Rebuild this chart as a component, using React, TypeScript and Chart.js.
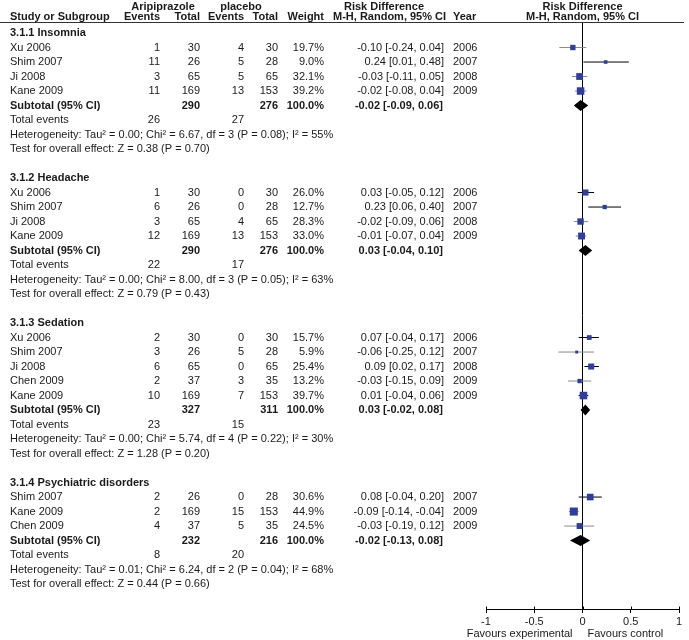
import React, { useEffect, useRef } from "react";
import { Chart, registerables } from "chart.js";

Chart.register(...registerables);

const FONT = '"Liberation Sans", Arial, sans-serif';

// ---------- 3.1.1 Insomnia ----------
const insomniaStudies = ["Xu 2006", "Shim 2007", "Ji 2008", "Kane 2009"];
const insomniaExpEvents = [1, 11, 3, 11];
const insomniaExpTotal = [30, 26, 65, 169];
const insomniaCtlEvents = [4, 5, 5, 13];
const insomniaCtlTotal = [30, 28, 65, 153];
const insomniaWeight = [19.7, 9.0, 32.1, 39.2];
const insomniaRD = [-0.1, 0.24, -0.03, -0.02];
const insomniaLo = [-0.24, 0.01, -0.11, -0.08];
const insomniaHi = [0.04, 0.48, 0.05, 0.04];
const insomniaYear = [2006, 2007, 2008, 2009];

// ---------- 3.1.2 Headache ----------
const headacheStudies = ["Xu 2006", "Shim 2007", "Ji 2008", "Kane 2009"];
const headacheExpEvents = [1, 6, 3, 12];
const headacheExpTotal = [30, 26, 65, 169];
const headacheCtlEvents = [0, 0, 4, 13];
const headacheCtlTotal = [30, 28, 65, 153];
const headacheWeight = [26.0, 12.7, 28.3, 33.0];
const headacheRD = [0.03, 0.23, -0.02, -0.01];
const headacheLo = [-0.05, 0.06, -0.09, -0.07];
const headacheHi = [0.12, 0.4, 0.06, 0.04];
const headacheYear = [2006, 2007, 2008, 2009];

// ---------- 3.1.3 Sedation ----------
const sedationStudies = ["Xu 2006", "Shim 2007", "Ji 2008", "Chen 2009", "Kane 2009"];
const sedationExpEvents = [2, 3, 6, 2, 10];
const sedationExpTotal = [30, 26, 65, 37, 169];
const sedationCtlEvents = [0, 5, 0, 3, 7];
const sedationCtlTotal = [30, 28, 65, 35, 153];
const sedationWeight = [15.7, 5.9, 25.4, 13.2, 39.7];
const sedationRD = [0.07, -0.06, 0.09, -0.03, 0.01];
const sedationLo = [-0.04, -0.25, 0.02, -0.15, -0.04];
const sedationHi = [0.17, 0.12, 0.17, 0.09, 0.06];
const sedationYear = [2006, 2007, 2008, 2009, 2009];

// ---------- 3.1.4 Psychiatric disorders ----------
const psychStudies = ["Shim 2007", "Kane 2009", "Chen 2009"];
const psychExpEvents = [2, 2, 4];
const psychExpTotal = [26, 169, 37];
const psychCtlEvents = [0, 15, 5];
const psychCtlTotal = [28, 153, 35];
const psychWeight = [30.6, 44.9, 24.5];
const psychRD = [0.08, -0.09, -0.03];
const psychLo = [-0.04, -0.14, -0.19];
const psychHi = [0.2, -0.04, 0.12];
const psychYear = [2007, 2009, 2009];

// ---------- subgroup summaries ----------
const subgroupTitles = [
  "3.1.1 Insomnia",
  "3.1.2 Headache",
  "3.1.3 Sedation",
  "3.1.4 Psychiatric disorders",
];
const subtotalExpTotal = [290, 290, 327, 232];
const subtotalCtlTotal = [276, 276, 311, 216];
const subtotalRD = [-0.02, 0.03, 0.03, -0.02];
const subtotalLo = [-0.09, -0.04, -0.02, -0.13];
const subtotalHi = [0.06, 0.1, 0.08, 0.08];
const totalExpEvents = [26, 22, 23, 8];
const totalCtlEvents = [27, 17, 15, 20];
const hetTau2 = ["0.00", "0.00", "0.00", "0.01"];
const hetChi2 = ["6.67", "8.00", "5.74", "6.24"];
const hetDf = [3, 3, 4, 2];
const hetP = ["0.08", "0.05", "0.22", "0.04"];
const hetI2 = [55, 63, 30, 68];
const overallZ = ["0.38", "0.79", "1.28", "0.44"];
const overallP = ["0.70", "0.43", "0.20", "0.66"];

// axis ticks
const xTicks = [-1, -0.5, 0, 0.5, 1];

type Study = {
  name: string;
  e1: number;
  t1: number;
  e2: number;
  t2: number;
  w: number;
  rd: number;
  lo: number;
  hi: number;
  year: number;
  row: number;
};

const groupsRaw = [
  [insomniaStudies, insomniaExpEvents, insomniaExpTotal, insomniaCtlEvents, insomniaCtlTotal, insomniaWeight, insomniaRD, insomniaLo, insomniaHi, insomniaYear],
  [headacheStudies, headacheExpEvents, headacheExpTotal, headacheCtlEvents, headacheCtlTotal, headacheWeight, headacheRD, headacheLo, headacheHi, headacheYear],
  [sedationStudies, sedationExpEvents, sedationExpTotal, sedationCtlEvents, sedationCtlTotal, sedationWeight, sedationRD, sedationLo, sedationHi, sedationYear],
  [psychStudies, psychExpEvents, psychExpTotal, psychCtlEvents, psychCtlTotal, psychWeight, psychRD, psychLo, psychHi, psychYear],
] as any[];

// Build row layout
const studies: Study[] = [];
type Group = { titleRow: number; subRow: number; idx: number };
const groups: Group[] = [];
{
  let r = 0;
  groupsRaw.forEach((g: any[], gi: number) => {
    const titleRow = r;
    r += 1;
    (g[0] as string[]).forEach((name, i) => {
      studies.push({
        name,
        e1: g[1][i],
        t1: g[2][i],
        e2: g[3][i],
        t2: g[4][i],
        w: g[5][i],
        rd: g[6][i],
        lo: g[7][i],
        hi: g[8][i],
        year: g[9][i],
        row: r,
      });
      r += 1;
    });
    groups.push({ titleRow, subRow: r, idx: gi });
    r += 5; // subtotal, total events, heterogeneity, test, blank
  });
}

const fmt2 = (v: number) => v.toFixed(2);
const ciText = (rd: number, lo: number, hi: number) =>
  `${fmt2(rd)} [${fmt2(lo)}, ${fmt2(hi)}]`;

const SQUARE_BLUE = "#2f3d9c";
const TEXT = "#1a1a1a";

const tablePlugin = {
  id: "forestTable",
  afterDatasetsDraw(chart: any) {
    const ctx = chart.ctx as CanvasRenderingContext2D;
    const xs = chart.scales.x;
    const ys = chart.scales.y;
    ctx.save();
    ctx.fillStyle = "#000";
    groups.forEach((g) => {
      const i = g.idx;
      const cy = ys.getPixelForValue(g.subRow);
      const xl = xs.getPixelForValue(subtotalLo[i]);
      const xm = xs.getPixelForValue(subtotalRD[i]);
      const xh = xs.getPixelForValue(subtotalHi[i]);
      ctx.beginPath();
      ctx.moveTo(xl, cy);
      ctx.lineTo(xm, cy - 5.5);
      ctx.lineTo(xh, cy);
      ctx.lineTo(xm, cy + 5.5);
      ctx.closePath();
      ctx.fill();
    });
    ctx.restore();
  },
  afterDraw(chart: any) {
    const ctx = chart.ctx as CanvasRenderingContext2D;
    const xs = chart.scales.x;
    const ys = chart.scales.y;
    const yOf = (row: number) => ys.getPixelForValue(row);
    ctx.save();
    ctx.fillStyle = TEXT;
    ctx.textBaseline = "middle";
    const put = (t: string, px: number, py: number, align: CanvasTextAlign, bold = false) => {
      ctx.font = `${bold ? "bold " : ""}11px ${FONT}`;
      ctx.textAlign = align;
      ctx.fillText(t, px, py);
    };

    const cStudy = 10;
    const cE1 = 160;
    const cT1 = 200;
    const cE2 = 244;
    const cT2 = 278;
    const cW = 324;
    const cCI = 444;
    const cYear = 453;

    // headers
    const h1 = yOf(-1.82);
    const h2 = yOf(-1.08);
    put("Aripiprazole", 163, h1, "center", true);
    put("placebo", 241, h1, "center", true);
    put("Risk Difference", 384, h1, "center", true);
    put("Risk Difference", xs.getPixelForValue(0), h1, "center", true);
    put("Study or Subgroup", cStudy, h2, "left", true);
    put("Events", cE1, h2, "right", true);
    put("Total", cT1, h2, "right", true);
    put("Events", cE2, h2, "right", true);
    put("Total", cT2, h2, "right", true);
    put("Weight", cW, h2, "right", true);
    put("M-H, Random, 95% CI", 333, h2, "left", true);
    put("Year", cYear, h2, "left", true);
    put("M-H, Random, 95% CI", xs.getPixelForValue(0), h2, "center", true);

    // header rule
    const ly = Math.round(chart.chartArea.top) + 0.5;
    ctx.strokeStyle = "#333";
    ctx.lineWidth = 1;
    ctx.beginPath();
    ctx.moveTo(0, ly);
    ctx.lineTo(684, ly);
    ctx.stroke();

    // studies
    studies.forEach((s) => {
      const py = yOf(s.row);
      put(s.name, cStudy, py, "left");
      put(String(s.e1), cE1, py, "right");
      put(String(s.t1), cT1, py, "right");
      put(String(s.e2), cE2, py, "right");
      put(String(s.t2), cT2, py, "right");
      put(s.w.toFixed(1) + "%", cW, py, "right");
      put(ciText(s.rd, s.lo, s.hi), cCI, py, "right");
      put(String(s.year), cYear, py, "left");
    });

    // group rows
    groups.forEach((g) => {
      const i = g.idx;
      put(subgroupTitles[i], cStudy, yOf(g.titleRow), "left", true);
      const ps = yOf(g.subRow);
      put("Subtotal (95% CI)", cStudy, ps, "left", true);
      put(String(subtotalExpTotal[i]), cT1, ps, "right", true);
      put(String(subtotalCtlTotal[i]), cT2, ps, "right", true);
      put("100.0%", cW, ps, "right", true);
      put(ciText(subtotalRD[i], subtotalLo[i], subtotalHi[i]), cCI - 1, ps, "right", true);
      const pe = yOf(g.subRow + 1);
      put("Total events", cStudy, pe, "left");
      put(String(totalExpEvents[i]), cE1, pe, "right");
      put(String(totalCtlEvents[i]), cE2, pe, "right");
      put(
        `Heterogeneity: Tau\u00b2 = ${hetTau2[i]}; Chi\u00b2 = ${hetChi2[i]}, df = ${hetDf[i]} (P = ${hetP[i]}); I\u00b2 = ${hetI2[i]}%`,
        cStudy,
        yOf(g.subRow + 2),
        "left"
      );
      put(`Test for overall effect: Z = ${overallZ[i]} (P = ${overallP[i]})`, cStudy, yOf(g.subRow + 3), "left");
    });

    // upward halves of the axis tick marks
    const axisY = Math.round(chart.chartArea.bottom) + 0.5;
    ctx.strokeStyle = "#000";
    xTicks.forEach((t) => {
      const px = Math.round(xs.getPixelForValue(t)) + 0.5;
      ctx.beginPath();
      ctx.moveTo(px, axisY - 3);
      ctx.lineTo(px, axisY);
      ctx.stroke();
    });

    // favours labels
    const x0 = xs.getPixelForValue(0);
    const fy = 634;
    put("Favours experimental", x0 - 10, fy, "right");
    put("Favours control", x0 + 5, fy, "left");
    ctx.restore();
  },
};

export default function App() {
  const ref = useRef<HTMLCanvasElement | null>(null);
  useEffect(() => {
    if (!ref.current) return;
    const ciDatasets = studies.map((s) => ({
      type: "scatter" as const,
      data: [
        { x: s.lo, y: s.row },
        { x: s.hi, y: s.row },
      ],
      showLine: true,
      borderColor: s.rd >= 0 ? "#000000" : "#8a8a8a",
      borderWidth: 1,
      pointRadius: 0,
      order: 2,
    }));
    const squares = {
      type: "scatter" as const,
      data: studies.map((s) => ({ x: s.rd, y: s.row })),
      pointStyle: "rect",
      pointRadius: studies.map((s) => (1.2 * Math.sqrt(s.w)) / Math.SQRT2),
      backgroundColor: SQUARE_BLUE,
      borderColor: SQUARE_BLUE,
      borderWidth: 0,
      order: 1,
    };
    const chart = new Chart(ref.current, {
      type: "scatter",
      data: { datasets: [squares, ...ciDatasets] as any },
      options: {
        animation: false,
        responsive: false,
        events: [],
        layout: { padding: { left: 486, right: 10, top: 22, bottom: 0 } },
        plugins: { legend: { display: false }, tooltip: { enabled: false }, title: { display: false } },
        scales: {
          x: {
            type: "linear",
            min: -1,
            max: 1,
            afterFit: (scale: any) => {
              scale.height = 31;
            },
            afterBuildTicks: (scale: any) => {
              scale.ticks = xTicks.map((v) => ({ value: v }));
            },
            ticks: {
              color: "#1a1a1a",
              font: { family: FONT, size: 11 },
              padding: 2,
              callback: (v: any) => String(v),
            },
            grid: {
              drawOnChartArea: true,
              color: (c: any) => (c.tick && c.tick.value === 0 ? "#000" : "rgba(0,0,0,0)"),
              tickColor: "#000",
              tickLength: 4,
            },
            border: { display: true, color: "#000", width: 1 },
          },
          y: {
            type: "linear",
            display: false,
            reverse: true,
            min: -0.76,
            max: 39.72,
          },
        },
      },
      plugins: [tablePlugin],
    });
    return () => chart.destroy();
  }, []);
  return (
    <div style={{ position: "absolute", left: 0, top: 0, width: 689, height: 640, background: "#fff" }}>
      <canvas ref={ref} width={689} height={640} style={{ display: "block" }} />
    </div>
  );
}
